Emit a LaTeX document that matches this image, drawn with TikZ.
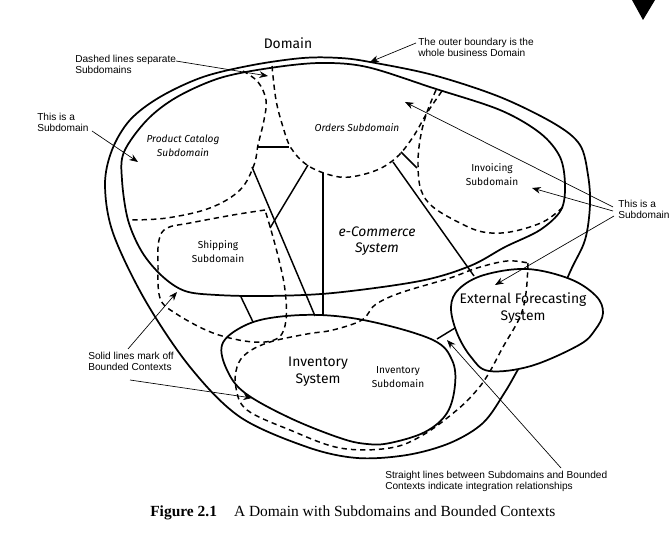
\documentclass[tikz,border=0pt]{standalone}
\usepackage{fontspec}
\setmainfont{Liberation Serif}
\newfontfamily\notefont{Liberation Sans}
\newfontfamily\handfont{Fira Sans}
\usetikzlibrary{arrows.meta}

\begin{document}
\begin{tikzpicture}[x=0.75pt, y=-0.75pt,
    ctx/.style={line width=1.3pt, line join=round},
    sub/.style={line width=1.1pt, dash pattern=on 4pt off 3pt},
    link/.style={line width=1.1pt},
    note/.style={align=left, inner sep=0pt, anchor=north west,
      font=\notefont\fontsize{7.6}{8.4}\selectfont},
    ptr/.style={line width=0.5pt, -{Stealth[length=6.5pt, width=5pt]}},
    lbl/.style={align=center, inner sep=0pt, font=\handfont\fontsize{7.6}{10.5}\selectfont},
    big/.style={align=center, inner sep=0pt, font=\handfont\fontsize{10.4}{12.8}\selectfont}]
    \useasboundingbox (0,0) rectangle (672,541);

    % Domain (outer boundary)
    \draw[ctx] plot[smooth cycle, tension=0.55] coordinates {
      (105,185) (112,150) (130,120) (160,97) (203,77) (253,65) (303,58)
      (340,58) (370,62) (433,75) (500,97) (555,124) (580,145) (588,175)
      (590,205) (585,240) (570,272) (545,330) (522,363) (505,392) (483,423)
      (450,443) (407,455) (357,458) (307,447) (240,417) (190,367) (145,300)
      (113,233)};
    % e-Commerce bounded context
    \draw[ctx] plot[smooth cycle, tension=0.55] coordinates {
      (122,180) (124,152) (147,120) (177,97) (220,78) (270,68) (320,63)
      (367,67) (433,88) (500,110) (540,133) (560,157) (565,185) (561,210)
      (540,230) (505,247) (470,266) (420,281) (333,293) (267,296) (217,295)
      (185,291) (162,276) (142,252) (128,220)};
    % Inventory bounded context
    \draw[ctx] plot[smooth cycle, tension=0.6] coordinates {
      (222,345) (240,328) (270,318) (320,315) (373,322) (433,340) (452,360)
      (455,385) (447,413) (425,432) (390,443) (367,444) (340,438) (290,418)
      (245,393) (227,370)};
    % External Forecasting bounded context
    \draw[ctx, fill=white] plot[smooth cycle, tension=0.6] coordinates {
      (451,307) (459,289) (484,275) (527,269) (570,279) (596,296) (603,313)
      (595,330) (579,345) (531,366) (489,371) (471,357) (457,333)};

    % Subdomains
    \draw[sub] plot[smooth, tension=0.6] coordinates {
      (243,71) (258,82) (266,100) (264,120) (258,145) (254,165) (240,190)
      (210,208) (167,218) (130,220)};
    \draw[sub] plot[smooth, tension=0.6] coordinates {
      (272,66) (276,100) (283,127) (291,148) (307,165) (330,175) (350,177)
      (377,170) (397,157) (413,137) (427,113) (442,91)};
    \draw[sub] plot[smooth, tension=0.6] coordinates {
      (436,90) (426,115) (420,140) (418,165) (421,190) (433,207) (460,223)
      (483,232) (510,232) (543,222) (563,207)};
    \draw[sub] plot[smooth, tension=0.6] coordinates {
      (265,210) (233,215) (190,223) (167,228) (159,240) (158,265) (160,298)
      (175,313) (213,333) (253,342) (278,338) (286,320) (285,290) (279,260)
      (271,230) (265,210)};
    \draw[sub] plot[smooth, tension=0.6] coordinates {
      (528,263) (526,293) (520,317) (503,347) (489,373) (477,390) (457,410)
      (423,435) (390,448) (340,448) (290,430) (247,410) (236,388) (237,367)
      (247,353) (270,342) (307,334) (333,330) (362,320) (375,305) (400,293)
      (450,278) (477,268) (507,261) (528,263)};

    % Integration points
    \coordinate (pc-a)  at (252,167);
    \coordinate (inv-a) at (315,316);
    \coordinate (ord-b) at (308,165);
    \coordinate (shp-b) at (270,228);
    \coordinate (ord-c) at (323,173);
    \coordinate (inv-c) at (323,315);
    \coordinate (ord-d) at (393,162);
    \coordinate (ext-d) at (474,276);
    \coordinate (ord-e) at (401,152);
    \coordinate (inc-e) at (417,168);
    \coordinate (ec-f)  at (241,297);
    \coordinate (inv-f) at (253,322);
    \coordinate (inv-g) at (437,339);
    \coordinate (ext-g) at (455,328);
    \coordinate (pc-h)  at (258,147);
    \coordinate (ord-h) at (289,147);
    % Integration relationships
    \draw[link] (pc-a) -- (inv-a);
    \draw[link] (ord-b) -- (shp-b);
    \draw[link] (ord-c) -- (inv-c);
    \draw[link] (ord-d) -- (ext-d);
    \draw[link] (ord-e) -- (inc-e);
    \draw[link] (ec-f) -- (inv-f);
    \draw[link] (inv-g) -- (ext-g);
    \draw[link] (pc-h) -- (ord-h);

    % Labels
    \node[big, font=\handfont\fontsize{10.4}{12}\selectfont] (domain) at (288,43) {Domain};
    \node[lbl, font=\handfont\itshape\fontsize{7.6}{10.5}\selectfont] (catalog) at (183,146) {Product Catalog\\Subdomain};
    \node[lbl, font=\handfont\itshape\fontsize{7.6}{10.5}\selectfont] (orders) at (357,128) {Orders Subdomain};
    \node[lbl] (invoicing) at (492,175) {Invoicing\\Subdomain};
    \node[lbl] (shipping) at (218,252) {Shipping\\Subdomain};
    \node[big, font=\handfont\itshape\fontsize{10.4}{12}\selectfont] (ecommerce) at (377,241) {e-Commerce\\System};
    \node[big] (forecast) at (523,308) {External Forecasting\\System};
    \node[big] (invsys) at (318,372) {Inventory\\System};
    \node[lbl] (invsub) at (398,377) {Inventory\\Subdomain};

    % Notes
    \node[note] (dashnote) at (75,55) {Dashed lines separate\\Subdomains};
    \node[note] (outernote) at (418,38) {The outer boundary is the\\whole business Domain};
    \node[note] (subnote) at (37,113) {This is a\\Subdomain};
    \node[note] (subnote2) at (618,200) {This is a\\Subdomain};
    \node[note] (solidnote) at (88,352) {Solid lines mark off\\Bounded Contexts};
    \node[note] (straightnote) at (385,471) {Straight lines between Subdomains and Bounded\\Contexts indicate integration relationships};

    \coordinate (dash-s) at (176,61);     \coordinate (dash-t) at (268,76);
    \coordinate (outer-s) at (416,43);    \coordinate (outer-t) at (370,62);
    \coordinate (sub-s) at (92,131);      \coordinate (sub-t) at (138,162);
    \coordinate (sub2-s1) at (613,207);   \coordinate (orders-t) at (405,102);
    \coordinate (sub2-s2) at (613,211);   \coordinate (invoicing-t) at (532,188);
    \coordinate (sub2-s3) at (614,216);   \coordinate (forecast-t) at (495,285);
    \coordinate (solid-s1) at (128,349);  \coordinate (solid-t1) at (177,292);
    \coordinate (solid-s2) at (130,380);  \coordinate (solid-t2) at (252,398);
    \coordinate (straight-s) at (561,468); \coordinate (straight-t) at (447,340);

    \draw[ptr] (dash-s) -- (dash-t);
    \draw[ptr] (outer-s) -- (outer-t);
    \draw[ptr] (sub-s) -- (sub-t);
    \draw[ptr] (sub2-s1) -- (orders-t);
    \draw[ptr] (sub2-s2) -- (invoicing-t);
    \draw[ptr] (sub2-s3) -- (forecast-t);
    \draw[ptr] (solid-s1) -- (solid-t1);
    \draw[ptr] (solid-s2) -- (solid-t2);
    \draw[ptr] (straight-s) -- (straight-t);

    % Caption and page marker
    \node[anchor=west, inner sep=0pt, font=\fontsize{11.6}{13}\selectfont] (caption) at (150,513)
      {\textbf{Figure 2.1}\hspace{1.1em}A Domain with Subdomains and Bounded Contexts};
    \fill (632,0) -- (655,0) -- (643,20) -- cycle;
\end{tikzpicture}
\end{document}
